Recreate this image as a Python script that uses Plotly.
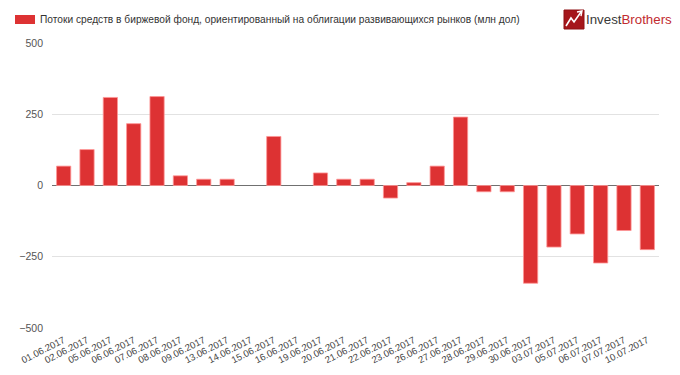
import plotly.graph_objects as go

dates = ["01.06.2017", "02.06.2017", "05.06.2017", "06.06.2017", "07.06.2017",
         "08.06.2017", "09.06.2017", "13.06.2017", "14.06.2017", "15.06.2017",
         "16.06.2017", "19.06.2017", "20.06.2017", "21.06.2017", "22.06.2017",
         "23.06.2017", "26.06.2017", "27.06.2017", "28.06.2017", "29.06.2017",
         "30.06.2017", "03.07.2017", "05.07.2017", "06.07.2017", "07.07.2017",
         "10.07.2017"]
flows = [68, 126, 309, 217, 312, 34, 22, 22, None, 172,
         None, 44, 22, 22, -44, 10, 68, 240, -22, -22,
         -343, -216, -170, -272, -158, -225]
series_name = "Потоки средств в биржевой фонд, ориентированный на облигации развивающихся рынков (млн дол)"
y_ticks = [-500, -250, 0, 250, 500]

# page body has an 8px margin; compensate so screen coords match
OFF = 8
W, H = 680 - OFF, 375 - OFF
L, R, T, B = 52 - OFF, 21, 43 - OFF, 47
PW, PH = W - L - R, H - T - B


def px(x):
    return (x - OFF - L) / PW


def py(y):
    return (H - B - (y - OFF)) / PH


fig = go.Figure()
fig.add_trace(go.Bar(
    x=dates, y=flows, name=series_name, showlegend=False,
    marker=dict(color="#DD3233", line=dict(color="rgba(255,150,150,0.8)", width=1)),
))

fig.update_layout(
    width=W, height=H,
    margin=dict(l=L, r=R, t=T, b=B, autoexpand=False),
    paper_bgcolor="white", plot_bgcolor="white",
    font=dict(family="Liberation Sans, Arial, sans-serif", size=11, color="#444"),
    bargap=0.39,
    xaxis=dict(type="category", tickangle=-27, tickfont=dict(size=9.5, color="#444"),
               showgrid=False, showline=False, ticks="", automargin=False,
               ticklabelstandoff=4),
    yaxis=dict(range=[-500, 500], tickvals=y_ticks, showgrid=True, gridcolor="#e2e2e2",
               gridwidth=1, zeroline=True, zerolinecolor="#707070", zerolinewidth=1,
               tickfont=dict(size=10.5, color="#555"), ticks="", automargin=False,
               ticklabelstandoff=8),
)

# legend swatch + text
fig.add_shape(type="rect", xref="paper", yref="paper",
              x0=px(15), x1=px(35), y0=py(15), y1=py(24),
              fillcolor="#DD3233", line=dict(width=0))
fig.add_annotation(x=px(38), y=py(19.5), xref="paper", yref="paper",
                   xanchor="left", yanchor="middle", showarrow=False,
                   text=series_name, font=dict(size=10.2, color="#333"))

# logo
fig.add_shape(type="rect", xref="paper", yref="paper",
              x0=px(564), x1=px(584), y0=py(10), y1=py(29),
              fillcolor="#A5161B", line=dict(color="#8E1015", width=1))
pts = [(566, 26), (571, 18), (574, 22), (581, 12)]
path = "M " + " L ".join(f"{px(a):.4f},{py(b):.4f}" for a, b in pts)
fig.add_shape(type="path", xref="paper", yref="paper", path=path,
              line=dict(color="white", width=1.6))
arrow = [(577, 12), (582, 11), (581, 16)]
apath = "M " + " L ".join(f"{px(a):.4f},{py(b):.4f}" for a, b in arrow)
fig.add_shape(type="path", xref="paper", yref="paper", path=apath,
              line=dict(color="white", width=1.4))
fig.add_annotation(x=px(584), y=py(19.5), xref="paper", yref="paper",
                   xanchor="left", yanchor="middle", showarrow=False,
                   text="<span style='color:#3a3a3a'>Invest</span><span style='color:#C22B2F'>Brothers</span>",
                   font=dict(size=13.3, family="Liberation Sans, Arial, sans-serif"))

fig.write_html("out.html")
